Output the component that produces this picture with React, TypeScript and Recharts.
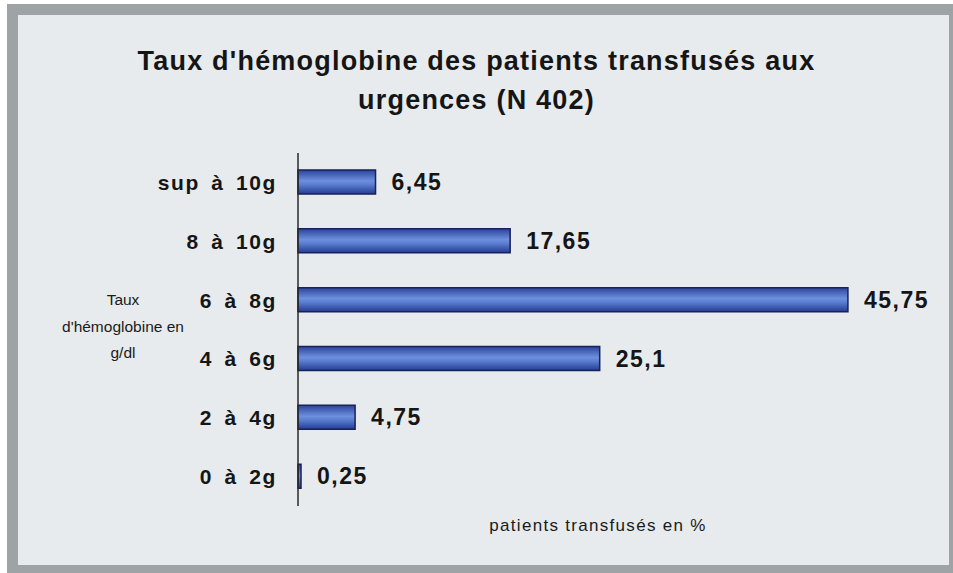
import React from "react";
import { BarChart, Bar, XAxis, YAxis, LabelList } from "recharts";

const categories = ["sup à 10g", "8 à 10g", "6 à 8g", "4 à 6g", "2 à 4g", "0 à 2g"];
const percents = [6.45, 17.65, 45.75, 25.1, 4.75, 0.25];
const valueLabels = ["6,45", "17,65", "45,75", "25,1", "4,75", "0,25"];

const data = categories.map((name, i) => ({ name, value: percents[i], label: valueLabels[i] }));

const FONT = "'Liberation Sans', Arial, sans-serif";

export default function App() {
  return (
    <div style={{ position: "absolute", left: 0, top: 0, width: 953, height: 573, background: "#ffffff", fontFamily: FONT }}>
      {/* scanned frame */}
      <div style={{ position: "absolute", left: 7, top: 4, width: 946, height: 569, background: "#9ea4a6" }} />
      <div style={{ position: "absolute", left: 18, top: 15, width: 931, height: 550, background: "#e7ebed" }} />

      <div
        style={{
          position: "absolute",
          left: 0,
          top: 42,
          width: 953,
          textAlign: "center",
          fontSize: 27,
          fontWeight: "bold",
          letterSpacing: 1.2,
          lineHeight: "39px",
          color: "#151515",
        }}
      >
        Taux d'hémoglobine des patients transfusés aux
        <br />
        urgences (N 402)
      </div>

      <div
        style={{
          position: "absolute",
          left: 53,
          top: 287,
          width: 140,
          textAlign: "center",
          fontSize: 15.5,
          lineHeight: "26.5px",
          color: "#1a1a1a",
        }}
      >
        Taux
        <br />
        d'hémoglobine en
        <br />
        g/dl
      </div>

      <div
        style={{
          position: "absolute",
          left: 398,
          top: 516,
          width: 400,
          textAlign: "center",
          fontSize: 17,
          letterSpacing: 1.3,
          color: "#1a1a1a",
        }}
      >
        patients transfusés en %
      </div>

      <div style={{ position: "absolute", left: 0, top: 0 }}>
        <BarChart
          width={953}
          height={573}
          data={data}
          layout="vertical"
          margin={{ top: 153, right: 54, bottom: 67, left: 0 }}
          barCategoryGap={0}
        >
          <defs>
            <linearGradient id="barFill" x1="0" y1="0" x2="0" y2="1">
              <stop offset="0%" stopColor="#2a449c" />
              <stop offset="45%" stopColor="#6d8fdc" />
              <stop offset="60%" stopColor="#5c7fd2" />
              <stop offset="100%" stopColor="#233c90" />
            </linearGradient>
          </defs>
          <XAxis type="number" domain={[0, 50]} hide />
          <YAxis
            type="category"
            dataKey="name"
            width={298}
            tickLine={false}
            axisLine={{ stroke: "#2a2a2a", strokeWidth: 1.5 }}
            tickMargin={15}
            tick={{ fill: "#151515", fontSize: 21, fontWeight: "bold", fontFamily: FONT, letterSpacing: 1.6, wordSpacing: 4 }}
          />
          <Bar
            dataKey="value"
            barSize={24}
            fill="url(#barFill)"
            stroke="#1a2158"
            strokeWidth={1.5}
            isAnimationActive={false}
          >
            <LabelList
              dataKey="label"
              position="right"
              offset={16}
              fill="#151515"
              fontSize={23}
              fontWeight="bold"
              fontFamily={FONT}
              letterSpacing={1.5}
            />
          </Bar>
        </BarChart>
      </div>
    </div>
  );
}
